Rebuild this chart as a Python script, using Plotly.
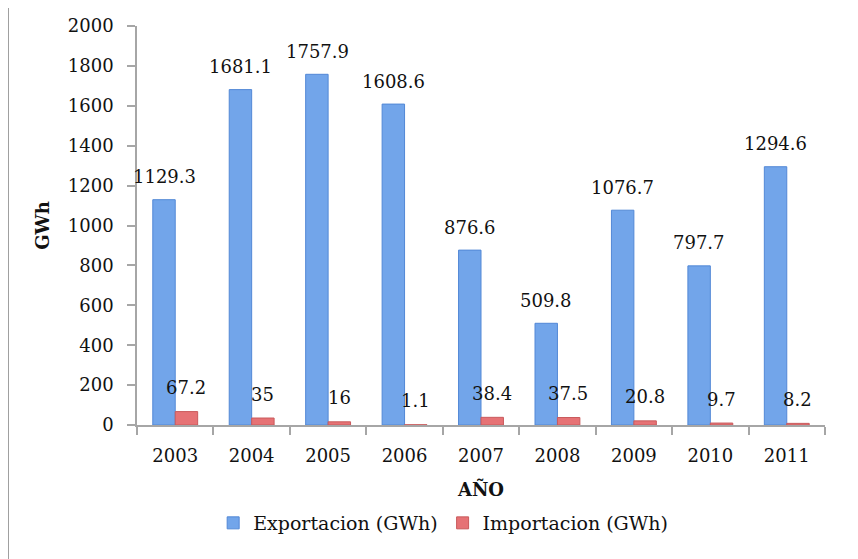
import plotly.graph_objects as go

years = ["2003", "2004", "2005", "2006", "2007", "2008", "2009", "2010", "2011"]
exportacion = [1129.3, 1681.1, 1757.9, 1608.6, 876.6, 509.8, 1076.7, 797.7, 1294.6]
importacion = [67.2, 35, 16, 1.1, 38.4, 37.5, 20.8, 9.7, 8.2]
export_labels = ["1129.3", "1681.1", "1757.9", "1608.6", "876.6", "509.8", "1076.7", "797.7", "1294.6"]
import_labels = ["67.2", "35", "16", "1.1", "38.4", "37.5", "20.8", "9.7", "8.2"]

FONT = "DejaVu Serif"
FS = 18
fig = go.Figure()
fig.add_trace(go.Bar(
    x=years, y=exportacion, name="Exportacion (GWh)",
    marker=dict(color="#72a5ea", line=dict(color="#5288d6", width=1)),
))
fig.add_trace(go.Bar(
    x=years, y=importacion, name="Importacion (GWh)",
    marker=dict(color="#e67275", line=dict(color="#c95a5c", width=1)),
))

annotations = []
for i, (v, t) in enumerate(zip(exportacion, export_labels)):
    annotations.append(dict(x=i, y=v, text=t, showarrow=False, xshift=-11,
                            yshift=23, yanchor="middle", font=dict(family=FONT, size=FS, color="#111")))
for i, (v, t) in enumerate(zip(importacion, import_labels)):
    annotations.append(dict(x=i, y=v, text=t, showarrow=False, xshift=11,
                            yshift=24, yanchor="middle", font=dict(family=FONT, size=FS, color="#111")))

fig.update_layout(
    width=858, height=559,
    margin=dict(l=129, r=41, t=18, b=142, autoexpand=False),
    paper_bgcolor="white", plot_bgcolor="white",
    barmode="group", bargap=0.413, bargroupgap=0,
    font=dict(family=FONT, size=FS, color="#111"),
    showlegend=True,
    legend=dict(orientation="h", x=0.445, xanchor="center", y=-0.2456, yanchor="middle",
                font=dict(family=FONT, size=19), itemwidth=30, traceorder="normal"),
    annotations=annotations,
    shapes=[dict(type="rect", xref="paper", yref="paper",
                 x0=-0.1875, x1=1.08, y0=-0.38, y1=1.0476,
                 line=dict(color="#a0a0a0", width=2), fillcolor="rgba(0,0,0,0)", layer="below")],
)
fig.update_xaxes(
    type="category", range=[-0.5, len(years) - 0.5],
    showline=True, linecolor="#a6a6a6", linewidth=1.5,
    ticks="outside", tickson="boundaries", ticklen=8, tickcolor="#a6a6a6", tickwidth=1.5,
    tickfont=dict(family=FONT, size=FS), tickangle=0, ticklabelstandoff=14,
    title=dict(text="<b>AÑO</b>", font=dict(family=FONT, size=FS), standoff=18),
)
fig.update_yaxes(
    range=[0, 2000], dtick=200, showgrid=False, zeroline=False,
    showline=True, linecolor="#a6a6a6", linewidth=1.5,
    ticks="outside", ticklen=8, tickcolor="#a6a6a6", tickwidth=1.5,
    tickfont=dict(family=FONT, size=FS), ticklabelstandoff=10,
    title=dict(text="<b>GWh</b>", font=dict(family=FONT, size=FS), standoff=14),
)

fig.write_html("out.html")
